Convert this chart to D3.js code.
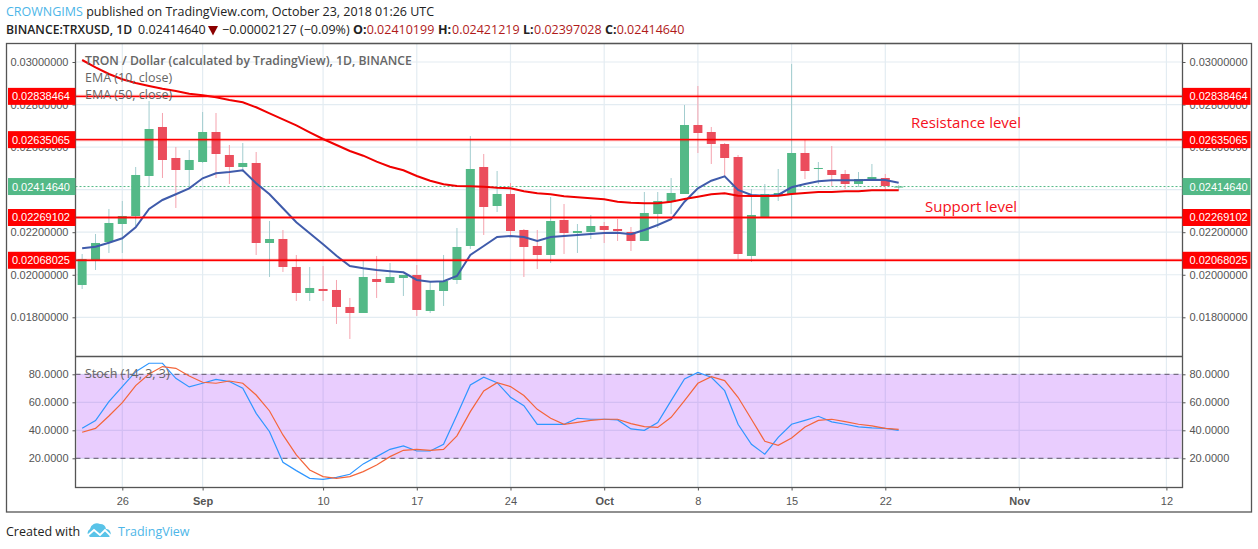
<!DOCTYPE html>
<html>
<head>
<meta charset="utf-8">
<script src="https://cdn.jsdelivr.net/npm/d3@7"></script>
<style>
  html, body { margin: 0; padding: 0; background: #fff; }
  svg { display: block; }
  .axis text { font-family: "Liberation Sans", Arial, sans-serif; font-size: 11px; fill: #555; }
  .axis path { display: none; }
  .axis line { stroke: #555; }
  .head { font-family: "Open Sans", sans-serif; font-size: 12.5px; fill: #222; }
  .legend { font-family: "Open Sans", sans-serif; font-size: 12.5px; fill: #666; }
</style>
</head>
<body>
<div class="board"></div>
<script>
//globals
var width = 1258;
var height = 549;

// one candle a day, 23 Aug to 23 Oct 2018
var opens = [0.019519,0.020694,0.021540,0.022386,0.022762,0.024642,0.026945,0.025488,0.024924,
  0.025300,0.026710,0.025629,0.025065,0.025253,0.021493,0.021681,0.020365,0.019143,0.019331,0.019284,0.018485,0.018203,
  0.019801,0.019613,0.019848,0.019989,0.018297,0.019237,0.019754,0.021352,0.025065,0.023232,0.023796,0.022104,0.021352,0.020929,0.022574,0.021963,0.022010,
  0.022292,0.022151,0.022010,0.021587,0.022856,0.023420,0.023796,0.027039,0.026710,0.026146,0.025535,0.020882,0.022715,0.023749,0.023796,0.025723,0.024971,0.024924,0.024736,0.024266,0.024501,0.024548,0.02410199];
var highs = [0.020976,0.021916,0.023091,0.023467,0.025065,0.028167,0.027603,0.026005,0.025864,
  0.027650,0.027603,0.026099,0.026193,0.025770,0.022527,0.022104,0.020929,0.020365,0.020412,0.019754,0.018908,0.020647,
  0.020882,0.020553,0.019989,0.020459,0.019707,0.020929,0.022198,0.026522,0.025676,0.024877,0.024313,0.022151,0.022104,0.023655,0.023326,0.022386,0.022809,
  0.022480,0.022621,0.022245,0.023890,0.023890,0.024548,0.027979,0.028872,0.026945,0.026193,0.025629,0.024031,0.024266,0.024971,0.029906,0.026381,0.025300,0.026052,0.024924,0.024830,0.025206,0.024736,0.02421219];
var lows = [0.019331,0.020224,0.021023,0.021023,0.022292,0.024172,0.024548,0.023138,0.024078,
  0.025253,0.024548,0.024266,0.024830,0.020929,0.019895,0.020130,0.018767,0.018767,0.018767,0.017686,0.016981,0.018203,
  0.018908,0.019613,0.019002,0.018062,0.018203,0.018532,0.019566,0.021211,0.021869,0.022950,0.021775,0.019895,0.020271,0.020553,0.020976,0.021023,0.021681,
  0.021493,0.021587,0.021117,0.021587,0.022198,0.022856,0.023796,0.025723,0.025206,0.024595,0.020741,0.020600,0.022715,0.023467,0.022668,0.024501,0.024266,0.024172,0.024031,0.024125,0.024454,0.023937,0.02397028];
var closes = [0.020741,0.021493,0.022433,0.022762,0.024689,0.026851,0.025394,0.024924,0.025394,
  0.026710,0.025676,0.025065,0.025253,0.021493,0.021681,0.020365,0.019143,0.019378,0.019237,0.018485,0.018203,0.019895,
  0.019660,0.019895,0.019989,0.018344,0.019284,0.019707,0.021305,0.024971,0.023185,0.023796,0.022057,0.021305,0.020929,0.022527,0.021963,0.022057,0.022292,
  0.022104,0.022057,0.021587,0.022903,0.023467,0.023843,0.027039,0.026663,0.026146,0.025488,0.020976,0.022809,0.023796,0.023843,0.025723,0.024877,0.025018,0.024689,0.024266,0.024501,0.024595,0.024172,0.02414640];

var ema10 = [0.021244,0.021319,0.021507,0.021714,0.022231,0.023091,0.023514,0.023782,0.024064,
  0.024534,0.024769,0.024830,0.024910,0.024299,0.023782,0.023124,0.022466,0.021949,0.021432,0.020896,0.020412,0.020304,
  0.020224,0.020163,0.020116,0.019754,0.019674,0.019693,0.019942,0.020929,0.021352,0.021775,0.021822,0.021775,0.021587,0.021775,0.021822,0.021869,0.021916,
  0.021963,0.021977,0.021902,0.022104,0.022339,0.022607,0.023434,0.024064,0.024421,0.024628,0.023984,0.023749,0.023716,0.023749,0.024111,0.024266,0.024393,0.024440,0.024440,0.024440,0.024468,0.024454,0.024327];
var ema50 = [0.030094,0.029751,0.029436,0.029187,0.029013,0.028872,0.028745,0.028637,0.028510,
  0.028435,0.028341,0.028214,0.028106,0.027871,0.027589,0.027307,0.027025,0.026696,0.026381,0.026099,0.025817,0.025596,
  0.025314,0.025079,0.024910,0.024642,0.024421,0.024252,0.024172,0.024158,0.024139,0.024092,0.024064,0.023923,0.023829,0.023782,0.023688,0.023641,0.023594,
  0.023547,0.023434,0.023387,0.023359,0.023359,0.023434,0.023561,0.023669,0.023782,0.023829,0.023716,0.023702,0.023702,0.023716,0.023796,0.023843,0.023890,0.023890,0.023923,0.023923,0.023970,0.023970,0.023970];

var stochK = [41.4,46.9,60.5,71.2,81.9,87.9,87.9,77.1,71,
  73.6,76.4,74.8,70,52.1,39,17.1,11.2,5.7,5,6.4,8.6,16,
  21.2,26.4,28.8,25.2,25.2,30,51,72.4,77.9,74,63.6,57.6,44.3,44.3,44.3,48.6,47.9,
  47.9,47.4,41,40,45.5,61.2,76.7,81.4,77.9,68.3,44.3,30,22.9,35,44.3,47.1,50,46,44.3,42.4,41.7,41.4,40];
var stochD = [38.6,41.4,50.2,59.8,71.9,80.2,85.5,84.3,78.8,
  74.3,73.6,75.2,73.6,65.2,53.8,36.7,22.4,11.7,6.9,5.7,6.9,10.5,
  15.2,21.2,25.7,26.4,25.7,26.4,36,53.3,68.1,74,71.2,64.8,55,48.6,44.3,45.7,47.1,
  47.9,47.9,44.8,42.6,42.1,49.3,61.2,73.6,78.3,75.5,63.6,47.9,32.1,29.3,34.5,42.4,47.1,47.9,46.2,44.3,43.1,41.4,40.7];

var levels = [0.02838464, 0.02635065, 0.02269102, 0.02068025];
var lastPrice = 0.02414640;
var priceTicks = [0.03, 0.028, 0.026, 0.024, 0.022, 0.02, 0.018];
var stochTicks = [80, 60, 40, 20];
var dateTicks = ['2018-08-26','2018-09-01','2018-09-10','2018-09-17','2018-09-24','2018-10-01','2018-10-08','2018-10-15','2018-10-22','2018-11-01','2018-11-12'];
var dateLabels = ['26','Sep','10','17','24','Oct','8','15','22','Nov','12'];

var plotLeft = 75.5, plotRight = 1182.5, plotTop = 43.5, paneLine = 356.5, plotBottom = 487.5;

var dates = d3.utcDay.range(new Date(Date.UTC(2018, 7, 23)), new Date(Date.UTC(2018, 9, 24)));
var tickDates = dateTicks.map(function(d) { return new Date(d + 'T00:00:00Z'); });

var x = d3.scaleUtc().domain([tickDates[0], tickDates[8]]).range([122.3, 885.3]);
var y = d3.scaleLinear().domain([0.03, 0.018]).range([62, 317.3]);
var yStoch = d3.scaleLinear().domain([80, 20]).range([374.3, 458.3]);

var svg = d3.select('.board').append('svg')
  .attr('width', width)
  .attr('height', height);

// grid first, everything else sits on it
svg.append('g').selectAll('line').data(priceTicks).enter().append('line')
  .attr('x1', plotLeft).attr('x2', plotRight)
  .attr('y1', function(d) { return y(d); }).attr('y2', function(d) { return y(d); })
  .attr('stroke', '#e3ecf2').attr('stroke-width', 1.2);
svg.append('g').selectAll('line').data(stochTicks).enter().append('line')
  .attr('x1', plotLeft).attr('x2', plotRight)
  .attr('y1', function(d) { return yStoch(d); }).attr('y2', function(d) { return yStoch(d); })
  .attr('stroke', '#e3ecf2').attr('stroke-width', 1.2);
svg.append('g').selectAll('line').data(tickDates).enter().append('line')
  .attr('x1', function(d) { return x(d); }).attr('x2', function(d) { return x(d); })
  .attr('y1', plotTop).attr('y2', plotBottom)
  .attr('stroke', '#e3ecf2').attr('stroke-width', 1.2);

// stoch band
svg.append('rect')
  .attr('x', plotLeft + 1).attr('width', plotRight - plotLeft - 2)
  .attr('y', yStoch(80)).attr('height', yStoch(20) - yStoch(80))
  .attr('fill', 'rgba(150,20,250,0.21)');
svg.append('g').selectAll('line').data([80, 20]).enter().append('line')
  .attr('x1', plotLeft).attr('x2', plotRight)
  .attr('y1', function(d) { return yStoch(d); }).attr('y2', function(d) { return yStoch(d); })
  .attr('stroke', '#5f5568').attr('stroke-width', 1).attr('stroke-dasharray', '5,4');

// last price line
svg.append('line')
  .attr('x1', plotLeft).attr('x2', plotRight)
  .attr('y1', y(lastPrice)).attr('y2', y(lastPrice))
  .attr('stroke', '#53b987').attr('stroke-width', 1).attr('stroke-dasharray', '2,2');

// candles
var candles = svg.append('g').selectAll('g').data(dates).enter().append('g');
candles.append('line')
  .attr('x1', function(d) { return x(d); }).attr('x2', function(d) { return x(d); })
  .attr('y1', function(d, i) { return y(highs[i]); })
  .attr('y2', function(d, i) { return y(lows[i]); })
  .attr('stroke', function(d, i) { return closes[i] >= opens[i] ? '#a3cdcf' : '#f5a3ae'; })
  .attr('stroke-width', 1);
candles.append('rect')
  .attr('x', function(d) { return x(d) - 4.5; })
  .attr('width', 9)
  .attr('y', function(d, i) { return y(Math.max(opens[i], closes[i])); })
  .attr('height', function(d, i) { return Math.max(1, Math.abs(y(opens[i]) - y(closes[i]))); })
  .attr('fill', function(d, i) { return closes[i] >= opens[i] ? '#53b987' : '#eb4d5c'; });

var drawLine = function(values, scale, color, w) {
  var line = d3.line()
    .x(function(d, i) { return x(dates[i]); })
    .y(function(d) { return scale(d); });
  svg.append('path')
    .attr('d', line(values))
    .attr('fill', 'none')
    .attr('stroke', color)
    .attr('stroke-width', w);
};

drawLine(ema10, y, '#3f5bab', 2);
drawLine(ema50, y, '#f00000', 2);
drawLine(stochK, yStoch, '#2f96ff', 1.2);
drawLine(stochD, yStoch, '#f4653a', 1.2);

// support / resistance lines go over the candles
svg.append('g').selectAll('line').data(levels).enter().append('line')
  .attr('x1', plotLeft).attr('x2', plotRight)
  .attr('y1', function(d) { return y(d); }).attr('y2', function(d) { return y(d); })
  .attr('stroke', 'rgba(255,0,0,0.3)').attr('stroke-width', 3);
svg.append('g').selectAll('line').data(levels).enter().append('line')
  .attr('x1', plotLeft).attr('x2', plotRight)
  .attr('y1', function(d) { return y(d); }).attr('y2', function(d) { return y(d); })
  .attr('stroke', '#ff0000').attr('stroke-width', 1.4);

// frames
svg.append('rect').attr('x', 6.5).attr('y', plotTop).attr('width', 1245).attr('height', 468.5)
  .attr('fill', 'none').attr('stroke', '#555').attr('stroke-width', 1.3);
svg.append('rect').attr('x', plotLeft).attr('y', plotTop).attr('width', plotRight - plotLeft).attr('height', plotBottom - plotTop)
  .attr('fill', 'none').attr('stroke', '#555').attr('stroke-width', 1.3);
svg.append('line').attr('x1', plotLeft).attr('x2', plotRight).attr('y1', paneLine).attr('y2', paneLine)
  .attr('stroke', '#555').attr('stroke-width', 1.3);

// axes, the 0.024 label is fully under the last price tag so it stays blank
var priceFormat = d3.format('.8f');
var stochFormat = d3.format('.4f');
var priceTickFormat = function(d) { return d === 0.024 ? '' : priceFormat(d); };

svg.append('g').attr('class', 'axis').attr('transform', 'translate(' + plotLeft + ',0)')
  .call(d3.axisLeft(y).tickValues(priceTicks).tickFormat(priceTickFormat).tickSize(3).tickPadding(4));
svg.append('g').attr('class', 'axis').attr('transform', 'translate(' + plotRight + ',0)')
  .call(d3.axisRight(y).tickValues(priceTicks).tickFormat(priceTickFormat).tickSize(3).tickPadding(4));
svg.append('g').attr('class', 'axis').attr('transform', 'translate(' + plotLeft + ',0)')
  .call(d3.axisLeft(yStoch).tickValues(stochTicks).tickFormat(stochFormat).tickSize(3).tickPadding(4));
svg.append('g').attr('class', 'axis').attr('transform', 'translate(' + plotRight + ',0)')
  .call(d3.axisRight(yStoch).tickValues(stochTicks).tickFormat(stochFormat).tickSize(3).tickPadding(4));

var xAxis = svg.append('g').attr('class', 'axis').attr('transform', 'translate(0,' + plotBottom + ')')
  .call(d3.axisBottom(x).tickValues(tickDates)
    .tickFormat(function(d, i) { return dateLabels[i]; })
    .tickSize(3).tickPadding(7));
xAxis.selectAll('text').style('font-weight', function(d, i) {
  return /[A-Z]/.test(dateLabels[i]) ? 'bold' : null;
});

// price tags on both sides
var priceTag = function(value, color) {
  [[8, 67.5], [plotRight, 68]].forEach(function(side) {
    svg.append('rect')
      .attr('x', side[0]).attr('width', side[1])
      .attr('y', y(value) - 8.5).attr('height', 17)
      .attr('fill', color);
    svg.append('text')
      .attr('x', side[0] === 8 ? 70 : 1189.5)
      .attr('y', y(value) + 4)
      .attr('text-anchor', side[0] === 8 ? 'end' : 'start')
      .attr('fill', '#fff')
      .style('font-family', '"Liberation Sans", Arial, sans-serif')
      .style('font-size', '11px')
      .text(priceFormat(value));
  });
};
levels.forEach(function(d) { priceTag(d, '#ff0000'); });
priceTag(lastPrice, '#53b987');

// legend texts
svg.append('text').attr('class', 'legend').attr('x', 85).attr('y', 65)
  .style('font-weight', 600).style('font-size', '12.2px')
  .text('TRON / Dollar (calculated by TradingView), 1D, BINANCE');
svg.append('text').attr('class', 'legend').attr('x', 85).attr('y', 82).text('EMA (10, close)');
svg.append('text').attr('class', 'legend').attr('x', 85).attr('y', 99).text('EMA (50, close)');
svg.append('text').attr('class', 'legend').attr('x', 85).attr('y', 378).text('Stoch (14, 3, 3)');

// hand written notes on the chart
var note = function(label, px, py) {
  svg.append('text').attr('x', px).attr('y', py)
    .attr('fill', '#f51020')
    .style('font-family', '"Open Sans", sans-serif')
    .style('font-size', '15px')
    .text(label);
};
note('Resistance level', 911, 128);
note('Support level', 925, 212);

// header
var head1 = svg.append('text').attr('class', 'head').attr('x', 6).attr('y', 16);
head1.append('tspan').style('fill', '#4db6e8').text('CROWNGIMS');
head1.append('tspan').text(' published on TradingView.com, October 23, 2018 01:26 UTC');

var head2 = svg.append('text').attr('class', 'head').attr('y', 34);
head2.append('tspan').attr('x', 6).style('font-weight', 600).style('font-size', '12.2px').text('BINANCE:TRXUSD, 1D');
head2.append('tspan').attr('x', 138).text(d3.format('.8f')(lastPrice));
head2.append('tspan').attr('x', 222).text('\u22120.00002127 (\u22120.09%)');
svg.append('path')
  .attr('d', 'M208,26 h10 l-5,9.5 z')
  .attr('fill', '#8b0000');
[['O:', opens[61], 353, 366.7], ['H:', highs[61], 438, 452], ['L:', lows[61], 523, 534], ['C:', closes[61], 605, 616.7]].forEach(function(d) {
  head2.append('tspan').attr('x', d[2]).style('font-weight', 'bold').text(d[0]);
  head2.append('tspan').attr('x', d[3]).style('fill', '#b01a1a').text(d3.format('.8f')(d[1]));
});

// footer
svg.append('text').attr('class', 'head').attr('x', 6).attr('y', 536).text('Created with');
svg.append('text').attr('class', 'head').attr('x', 118).attr('y', 536).style('fill', '#4db6e8').text('TradingView');
svg.append('path')
  .attr('d', 'M90,537 a4.5,4.5 0 0 1 0,-8 a7,7 0 0 1 10,-5 a6,6 0 0 1 6,5 a4.5,4.5 0 0 1 3,8 z')
  .attr('fill', '#59c3e8');
svg.append('path')
  .attr('d', 'M86,537 L94,530 L100,535 L105,530 L112,537')
  .attr('fill', 'none')
  .attr('stroke', '#fff')
  .attr('stroke-width', 1.8);
</script>
</body>
</html>
